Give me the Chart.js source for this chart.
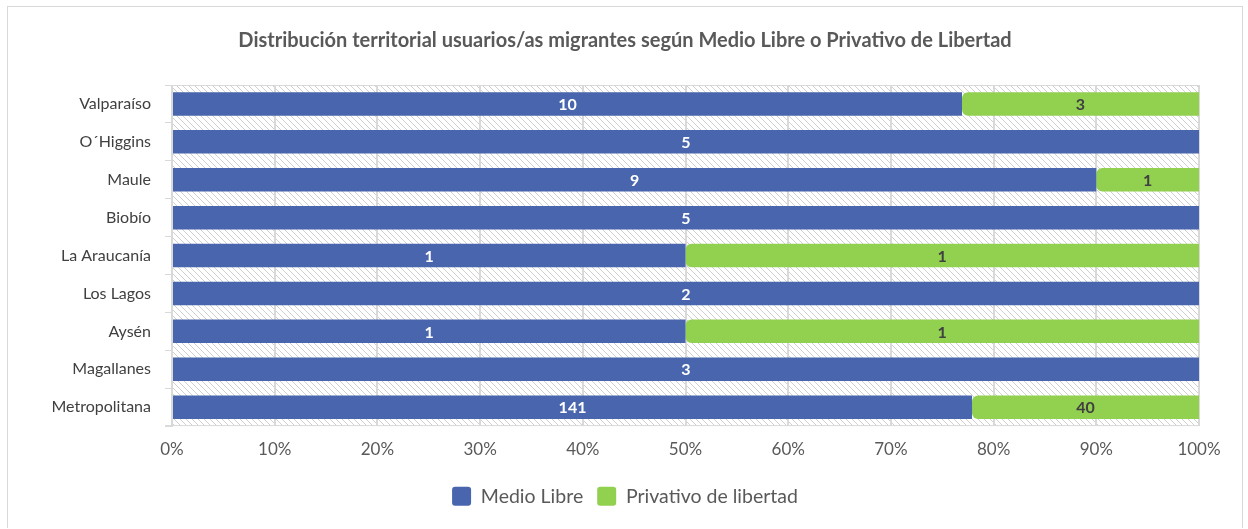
<!DOCTYPE html>
<html>
<head>
<meta charset="utf-8">
<script src="https://cdn.jsdelivr.net/npm/chart.js@4.4.1/dist/chart.umd.min.js"></script>
<style>
  html, body { margin: 0; padding: 0; background: #fff; }
  #frame {
    position: absolute; left: 7px; top: 6px;
    width: 1234px; height: 521px;
    border: 1px solid #d9d9d9; border-bottom: none;
  }
  canvas { display: block; }
</style>
</head>
<body>
<div id="frame"><canvas id="chart" width="1234" height="521"></canvas></div>
<script>
// ---------- Data -------------------------------------------------------
const TITLE = "Distribución territorial usuarios/as migrantes según Medio Libre o Privativo de Libertad";
const regions = ["Valparaíso", "O´Higgins", "Maule", "Biobío", "La Araucanía", "Los Lagos", "Aysén", "Magallanes", "Metropolitana"];
const medioLibre = [10, 5, 9, 5, 1, 2, 1, 3, 141];
const privativo  = [3, 0, 1, 0, 1, 0, 1, 0, 40];
const xTicks = [0, 10, 20, 30, 40, 50, 60, 70, 80, 90, 100];

const BLUE = "#4865ad";
const GREEN = "#92d050";
const TEXT = "#595959";
const GRID = "#d9d9d9";
const FONT = "Lato, 'Open Sans', sans-serif";

// share of each row, for the 100 % stack
const totals = regions.map((_, i) => medioLibre[i] + privativo[i]);
const pctLibre = medioLibre.map((v, i) => v / totals[i] * 100);
const pctPriv  = privativo.map((v, i) => v / totals[i] * 100);

// ---------- Hatched plot background -----------------------------------
function hatchPattern(ctx) {
  const c = document.createElement("canvas");
  c.width = 6; c.height = 6;
  const g = c.getContext("2d");
  g.fillStyle = "#fff";
  g.fillRect(0, 0, 6, 6);
  g.strokeStyle = "#d0d0d0";
  g.lineWidth = 1;
  g.beginPath();
  g.moveTo(0, 0); g.lineTo(6, 6);
  g.moveTo(-3, 3); g.lineTo(3, 9);
  g.moveTo(3, -3); g.lineTo(9, 3);
  g.stroke();
  return ctx.createPattern(c, "repeat");
}

const plotBg = {
  id: "plotBg",
  beforeDraw(chart) {
    const { ctx, chartArea: a } = chart;
    ctx.save();
    ctx.fillStyle = hatchPattern(ctx);
    ctx.fillRect(a.left, a.top, a.right - a.left, a.bottom - a.top);
    ctx.strokeStyle = GRID;
    ctx.lineWidth = 1;
    ctx.beginPath();
    ctx.moveTo(a.left, a.top + 0.5); ctx.lineTo(a.right, a.top + 0.5);
    ctx.moveTo(a.left - 7, a.bottom - 0.5); ctx.lineTo(a.right, a.bottom - 0.5);
    ctx.stroke();
    ctx.restore();
  }
};

// ---------- Value labels in the bars ----------------------------------
const barLabels = {
  id: "barLabels",
  afterDatasetsDraw(chart) {
    const { ctx } = chart;
    const raws = [medioLibre, privativo];
    const colors = ["#ffffff", "#404040"];
    ctx.save();
    ctx.font = "bold 16px " + FONT;
    ctx.textAlign = "center";
    ctx.textBaseline = "middle";
    chart.data.datasets.forEach((ds, di) => {
      chart.getDatasetMeta(di).data.forEach((bar, i) => {
        const v = raws[di][i];
        if (!v) return;
        const x = (bar.x + bar.base) / 2;
        ctx.fillStyle = colors[di];
        ctx.fillText(String(v), x, bar.y + 1);
      });
    });
    ctx.restore();
  }
};

// ---------- Chart ------------------------------------------------------
new Chart(document.getElementById("chart"), {
  type: "bar",
  data: {
    labels: regions,
    datasets: [
      {
        label: "Medio Libre",
        data: pctLibre,
        backgroundColor: BLUE,
        borderWidth: 0,
        barPercentage: 0.62,
        categoryPercentage: 1,
      },
      {
        label: "Privativo de libertad",
        data: pctPriv,
        backgroundColor: GREEN,
        borderWidth: 0,
        borderRadius: { topLeft: 6, bottomLeft: 6, topRight: 0, bottomRight: 0 },
        borderSkipped: false,
        barPercentage: 0.62,
        categoryPercentage: 1,
      },
    ],
  },
  options: {
    indexAxis: "y",
    responsive: false,
    animation: false,
    layout: { padding: { left: 0, right: 0, top: 0, bottom: 12 } },
    plugins: {
      title: {
        display: true,
        text: TITLE,
        color: TEXT,
        font: { family: FONT, size: 20, weight: "bold" },
        padding: { top: 22, bottom: 32 },
      },
      legend: {
        position: "bottom",
        labels: {
          color: TEXT,
          font: { family: FONT, size: 19.5 },
          boxWidth: 19,
          boxHeight: 19,
          useBorderRadius: true,
          borderRadius: 3,
          padding: 14,
        },
      },
      tooltip: { enabled: false },
    },
    scales: {
      x: {
        stacked: true,
        min: 0,
        max: 100,
        afterBuildTicks: s => { s.ticks = xTicks.map(v => ({ value: v })); },
        afterFit: s => { s.paddingRight = 43; },
        ticks: {
          color: TEXT,
          font: { family: FONT, size: 17 },
          padding: 13,
          callback: v => v + "%",
        },
        grid: { color: GRID, lineWidth: 2, drawTicks: false },
        border: { display: false },
      },
      y: {
        stacked: true,
        afterFit: s => { s.width = 164; },
        ticks: {
          color: "#404040",
          font: { family: FONT, size: 16 },
          padding: 14,
        },
        grid: { display: true, drawOnChartArea: false, color: GRID, tickLength: 7, offset: true },
        border: { color: GRID, width: 1 },
      },
    },
  },
  plugins: [plotBg, barLabels],
});
</script>
</body>
</html>
